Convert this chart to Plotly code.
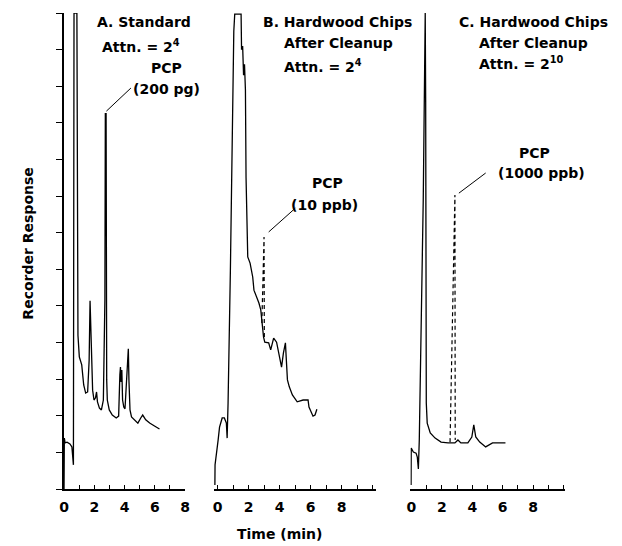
import plotly.graph_objects as go

# ---------------- data (time in min, recorder response in chart divisions) -------------
a_time = [0.00, 0.02, 0.07, 0.20, 0.39, 0.52, 0.62, 0.64, 0.66, 0.85, 0.88, 0.92, 1.01, 1.11,
          1.17, 1.30, 1.43, 1.56, 1.66, 1.72, 1.79, 1.89, 1.98, 2.08, 2.15, 2.21, 2.34, 2.47,
          2.60, 2.70, 2.73, 2.78, 2.82, 2.86, 2.99, 3.19, 3.45, 3.61, 3.69, 3.73, 3.77, 3.82,
          3.87, 3.95, 4.03, 4.13, 4.20, 4.25, 4.29, 4.36, 4.46, 4.68, 4.88, 5.07, 5.20, 5.40,
          5.66, 5.98, 6.31]
a_resp = [0.00, 1.39, 1.26, 1.28, 1.23, 1.15, 0.66, 6.00, 13.0, 13.0, 6.00, 4.20, 3.61, 3.44,
          3.39, 2.84, 2.62, 2.65, 3.52, 5.14, 4.07, 2.70, 2.43, 2.49, 2.65, 2.38, 2.21, 2.16,
          2.43, 5.16, 10.25, 10.25, 2.98, 2.43, 2.16, 2.02, 1.94, 1.99, 3.11, 3.33, 2.92, 3.25,
          2.43, 2.24, 2.19, 3.11, 3.39, 3.83, 2.98, 2.16, 1.97, 1.89, 1.80, 1.94, 2.02, 1.89,
          1.80, 1.72, 1.64]

b_time = [-0.17, -0.16, 0.04, 0.13, 0.30, 0.44, 0.57, 0.62, 0.68, 0.83, 1.05, 1.11, 1.52, 1.55,
          1.62, 1.68, 1.74, 1.80, 1.84, 1.92, 1.95, 2.10, 2.20, 2.27, 2.35, 2.54, 2.67, 2.79,
          2.86, 2.97, 3.05, 3.30, 3.43, 3.62, 3.81, 3.94, 4.13, 4.25, 4.38, 4.44, 4.51, 4.63,
          4.83, 5.14, 5.52, 5.84, 5.90, 6.16, 6.29, 6.41]
b_resp = [0.11, 0.66, 1.34, 1.69, 1.94, 1.94, 1.80, 1.39, 2.35, 5.98, 12.5, 12.97, 12.97, 12.0,
          12.1, 11.3, 11.6, 10.9, 8.5, 6.6, 6.34, 6.17, 5.98, 5.79, 5.43, 5.24, 5.08, 4.89,
          4.53, 4.15, 4.01, 3.99, 3.80, 4.12, 4.01, 3.71, 3.33, 3.71, 3.99, 3.52, 2.98, 2.79,
          2.57, 2.38, 2.43, 2.43, 2.24, 1.99, 2.02, 2.18]

c_time = [-0.02, -0.01, 0.13, 0.31, 0.39, 0.46, 0.52, 0.59, 0.65, 0.78, 0.91, 0.94, 0.96, 0.98,
          1.04, 1.24, 1.56, 1.95, 2.41, 2.86, 3.06, 3.25, 3.71, 3.97, 4.10, 4.23, 4.49, 4.88,
          5.33, 5.85, 6.18]
c_resp = [0.11, 1.12, 1.01, 0.98, 0.87, 0.55, 1.34, 2.79, 4.62, 7.89, 13.0, 10.62, 5.98, 2.35,
          1.80, 1.53, 1.39, 1.28, 1.26, 1.26, 1.34, 1.26, 1.26, 1.42, 1.75, 1.42, 1.28, 1.15,
          1.26, 1.26, 1.26]

# PCP peak drawn dashed (expected position) in B and C
b_pcp_time = [2.86, 3.00, 3.02]
b_pcp_resp = [4.53, 6.88, 4.12]
c_pcp_time = [2.54, 2.86, 2.88]
c_pcp_resp = [1.28, 8.03, 1.34]

# leader lines from the PCP labels to the peaks
a_lead_time, a_lead_resp = [2.80, 4.42], [10.32, 10.95]
b_lead_time, b_lead_resp = [3.30, 5.02], [7.02, 7.67]
c_lead_time, c_lead_resp = [3.12, 4.88], [8.08, 8.63]

x_major_ticks = [0, 2, 4, 6, 8]
x_minor_ticks_a = [1, 3, 5, 7]
x_minor_ticks_bc = [1, 3, 5, 7, 9, 10]
y_ticks = list(range(0, 14))

panel_titles = {
    "A": ["A. Standard", "Attn. = 2<sup>4</sup>"],
    "B": ["B. Hardwood Chips", "After Cleanup", "Attn. = 2<sup>4</sup>"],
    "C": ["C. Hardwood Chips", "After Cleanup", "Attn. = 2<sup>10</sup>"],
}
pcp_labels = {"A": ["PCP", "(200 pg)"], "B": ["PCP", "(10 ppb)"], "C": ["PCP", "(1000 ppb)"]}

# ---------------- figure ---------------------------------------------------------------
W, H = 622, 546
FONT = "DejaVu Sans"
def px(x):
    return x / W
def py(y):
    return 1 - y / H

fig = go.Figure()
line = dict(color="black", width=1.3)
dash = dict(color="black", width=1.2, dash="4px,3px")
fig.add_trace(go.Scatter(x=a_time, y=a_resp, mode="lines", line=line, xaxis="x", yaxis="y"))
fig.add_trace(go.Scatter(x=b_time, y=b_resp, mode="lines", line=line, xaxis="x2", yaxis="y2"))
fig.add_trace(go.Scatter(x=c_time, y=c_resp, mode="lines", line=line, xaxis="x3", yaxis="y3"))
fig.add_trace(go.Scatter(x=b_pcp_time, y=b_pcp_resp, mode="lines", line=dash, xaxis="x2", yaxis="y2"))
fig.add_trace(go.Scatter(x=c_pcp_time, y=c_pcp_resp, mode="lines", line=dash, xaxis="x3", yaxis="y3"))
lead = dict(color="black", width=1)
fig.add_trace(go.Scatter(x=a_lead_time, y=a_lead_resp, mode="lines", line=lead, xaxis="x", yaxis="y"))
fig.add_trace(go.Scatter(x=b_lead_time, y=b_lead_resp, mode="lines", line=lead, xaxis="x2", yaxis="y2"))
fig.add_trace(go.Scatter(x=c_lead_time, y=c_lead_resp, mode="lines", line=lead, xaxis="x3", yaxis="y3"))

ydom = [py(489), py(13)]
tickfont = dict(family=FONT, size=14, color="black", weight="bold")

def xaxis(dom, rng, minor_ticks, anchor):
    return dict(domain=dom, range=rng, anchor=anchor, showline=True, linecolor="black",
                linewidth=1.5, ticks="inside", ticklen=4, tickwidth=1.2, tickcolor="black",
                tickmode="array", tickvals=x_major_ticks,
                minor=dict(tickmode="array", tickvals=minor_ticks, ticks="inside", ticklen=4,
                           tickwidth=1.2, tickcolor="black", showgrid=False),
                tickfont=tickfont, showgrid=False, zeroline=False, ticklabelstandoff=4,
                fixedrange=True)

fig.update_layout(
    width=W, height=H, autosize=False,
    margin=dict(l=0, r=0, t=0, b=0),
    paper_bgcolor="white", plot_bgcolor="white",
    showlegend=False,
    xaxis=xaxis([px(60), px(183)], [0, 8], x_minor_ticks_a, "y"),
    xaxis2=xaxis([px(212), px(377)], [-0.254, 10.22], x_minor_ticks_bc, "y2"),
    xaxis3=xaxis([px(412), px(569)], [-0.065, 10.08], x_minor_ticks_bc, "y3"),
    yaxis=dict(domain=ydom, range=[0, 13], anchor="x", showline=True, linecolor="black",
               linewidth=1.5, ticks="outside", ticklen=6, tickwidth=1.2, tickcolor="black",
               tickmode="array", tickvals=y_ticks, showticklabels=False, showgrid=False,
               zeroline=False, fixedrange=True),
    yaxis2=dict(domain=ydom, range=[0, 13], anchor="x2", visible=False, fixedrange=True),
    yaxis3=dict(domain=ydom, range=[0, 13], anchor="x3", visible=False, fixedrange=True),
)

tfont = dict(family=FONT, size=14, color="black", weight="bold")
def note(text, x, y, xanchor="left"):
    fig.add_annotation(text=text, x=px(x), y=py(y), xref="paper", yref="paper",
                       xanchor=xanchor, yanchor="middle", showarrow=False, font=tfont)

# panel titles (left edges, vertical centres in pixels)
note(panel_titles["A"][0], 91, 22)
note(panel_titles["A"][1], 97, 46)
note(panel_titles["B"][0], 260, 22)
note(panel_titles["B"][1], 282, 43)
note(panel_titles["B"][2], 282, 66)
note(panel_titles["C"][0], 459, 22)
note(panel_titles["C"][1], 480, 43)
note(panel_titles["C"][2], 480, 63)
# PCP labels
note(pcp_labels["A"][0], 164, 68, "center")
note(pcp_labels["A"][1], 164, 89, "center")
note(pcp_labels["B"][0], 328, 183, "center")
note(pcp_labels["B"][1], 325, 205, "center")
note(pcp_labels["C"][0], 538, 153, "center")
note(pcp_labels["C"][1], 545, 173, "center")
# axis titles
note("Time (min)", 279, 534, "center")
fig.add_annotation(text="Recorder Response", x=px(23), y=py(244), xref="paper", yref="paper",
                   textangle=-90, showarrow=False, font=tfont, xanchor="center", yanchor="middle")

fig.write_html("out.html", config={"displayModeBar": False},
               post_script="document.body.style.margin='0px';document.body.style.overflow='hidden';")
